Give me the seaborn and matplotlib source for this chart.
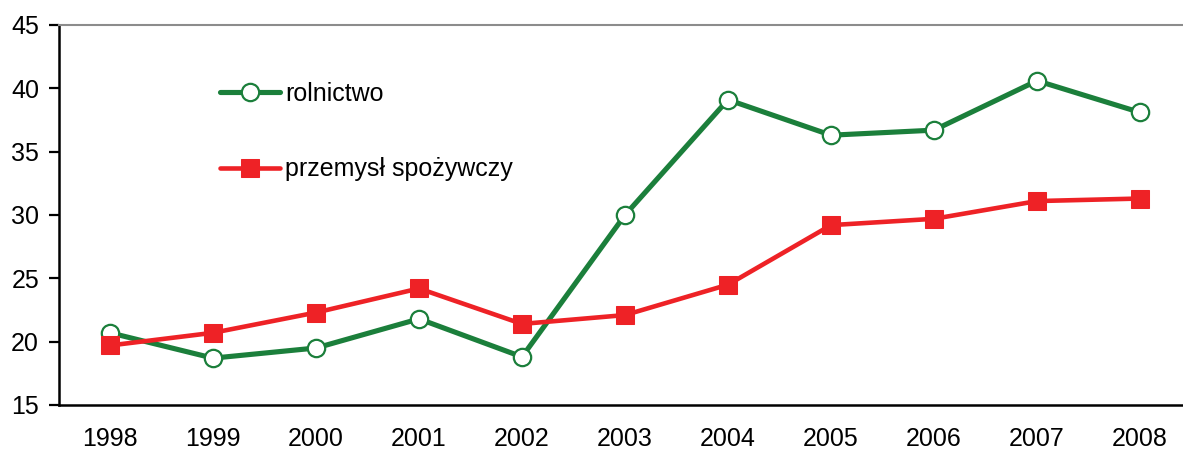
import numpy as np
import pandas as pd
import matplotlib
matplotlib.use("Agg")
import matplotlib.pyplot as plt
import seaborn as sns

years = ["1998", "1999", "2000", "2001", "2002", "2003", "2004", "2005", "2006", "2007", "2008"]
rolnictwo = [20.7, 18.7, 19.5, 21.8, 18.8, 30.0, 39.1, 36.3, 36.7, 40.6, 38.1]
przemysl = [19.7, 20.7, 22.3, 24.2, 21.4, 22.1, 24.5, 29.2, 29.7, 31.1, 31.3]
series_names = ["rolnictwo", "przemysł spożywczy"]

sns.set_style("white")
plt.rcParams['font.family'] = ['Liberation Sans', 'DejaVu Sans']
plt.rcParams['text.color'] = 'black'
plt.rcParams['xtick.color'] = 'black'
plt.rcParams['ytick.color'] = 'black'

df = pd.DataFrame({
    "idx": list(range(len(years))) * 2,
    "value": rolnictwo + przemysl,
    "series": [series_names[0]] * len(years) + [series_names[1]] * len(years),
})

fig = plt.figure(figsize=(11.83, 4.5), dpi=100)
ax = fig.add_axes([58.5 / 1183, 45 / 450, 1133 / 1183, 380 / 450])

green = "#1b7f3b"
red = "#ee2226"

sns.lineplot(data=df[df.series == series_names[0]], x="idx", y="value", ax=ax,
             color=green, lw=3.7, marker="o", markersize=12.5,
             markerfacecolor="white", markeredgecolor=green, markeredgewidth=1.6,
             label=series_names[0])
sns.lineplot(data=df[df.series == series_names[1]], x="idx", y="value", ax=ax,
             color=red, lw=3.3, marker="s", markersize=13.5,
             markerfacecolor=red, markeredgecolor=red,
             label=series_names[1])

ax.set_xlim(-0.5, len(years) - 0.5)
ax.set_ylim(15, 45)
ax.set_yticks(range(15, 46, 5))
ax.set_xticks(range(len(years)))
ax.set_xticklabels(years)
ax.set_xticks(np.arange(-0.5, len(years), 1.0), minor=True)
ax.tick_params(axis="x", which="major", length=0, pad=16, labelsize=18, labelcolor="black")
ax.tick_params(axis="x", which="minor", length=6, width=1.6, direction="out", color="black")
ax.tick_params(axis="y", which="major", length=7, width=1.6, direction="out", color="black",
               labelsize=18, pad=7, left=True, labelcolor="black")
ax.set_xlabel("")
ax.set_ylabel("")

for s in ["left", "bottom"]:
    ax.spines[s].set_color("black")
    ax.spines[s].set_linewidth(1.8)
ax.spines["top"].set_color("#8c8c8c")
ax.spines["top"].set_linewidth(1.5)
ax.spines["right"].set_visible(False)
ax.grid(False)

leg = ax.legend(loc="upper left", bbox_to_anchor=(0.1425, 0.85), frameon=False,
                fontsize=18, handlelength=2.4, handletextpad=0.2, labelspacing=2.05,
                borderpad=0, borderaxespad=0)
for t in leg.get_texts():
    t.set_color("black")

fig.savefig("out.png", dpi=100)
